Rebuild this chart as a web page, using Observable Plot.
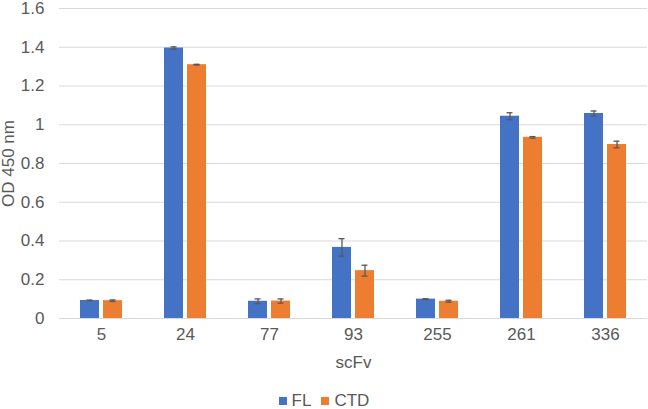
<!DOCTYPE html>
<html>
<head>
<meta charset="utf-8">
<script src="https://cdn.jsdelivr.net/npm/d3@7"></script>
<script src="https://cdn.jsdelivr.net/npm/@observablehq/plot@0.6"></script>
<style>
  body { margin: 0; background: #fff; font-family: "Liberation Sans", Arial, sans-serif; }
  #chart { width: 648px; }
  .legend { display: flex; justify-content: center; align-items: center; gap: 10px; height: 34px; padding-top: 17px; line-height: 17px; box-sizing: border-box; font-size: 17px; color: #595959; }
  .legend span.sw { display: inline-block; width: 8px; height: 8px; margin-right: 5px; }
  .legend .item { display: flex; align-items: center; }
</style>
</head>
<body>
<div id="chart"></div>
<script>
const categories = ["5", "24", "77", "93", "255", "261", "336"];
const series = ["FL", "CTD"];
const seriesColors = ["#4472C4", "#ED7D31"];
const flValues = [0.093, 1.396, 0.089, 0.367, 0.100, 1.044, 1.058];
const flErrors = [0.002, 0.006, 0.012, 0.045, 0.002, 0.018, 0.013];
const ctdValues = [0.092, 1.310, 0.090, 0.247, 0.089, 0.935, 0.898];
const ctdErrors = [0.004, 0.002, 0.011, 0.028, 0.005, 0.004, 0.017];
const yTicks = [0, 0.2, 0.4, 0.6, 0.8, 1, 1.2, 1.4, 1.6];

const rows = [];
categories.forEach((c, i) => {
  rows.push({cat: c, series: "FL", value: flValues[i], err: flErrors[i]});
  rows.push({cat: c, series: "CTD", value: ctdValues[i], err: ctdErrors[i]});
});

const textColor = "#595959";
const errColor = "#595959";

const chart = Plot.plot({
  width: 648,
  height: 375,
  marginLeft: 59,
  marginRight: 1,
  marginTop: 8,
  marginBottom: 57,
  style: { fontFamily: "Liberation Sans, Arial, sans-serif", fontSize: "17px", color: textColor, background: "#fff", overflow: "visible" },
  fx: { domain: categories, padding: 0, label: null },
  x: { domain: series, paddingInner: 0.1875, paddingOuter: 0.846, axis: null },
  y: { domain: [0, 1.6], label: null },
  color: { domain: series, range: seriesColors },
  marks: [
    Plot.gridY(yTicks, { stroke: "#D9D9D9", strokeOpacity: 1, strokeWidth: 1 }),
    Plot.axisY(yTicks, {
      tickSize: 0, tickPadding: 15, fontSize: 17, fill: textColor,
      tickFormat: d => String(+d.toFixed(1)),
      label: "OD 450 nm", labelAnchor: "center", labelOffset: 58, labelArrow: false
    }),
    Plot.axisFx({
      anchor: "bottom",
      tickSize: 0, tickPadding: 9, fontSize: 17, fill: textColor,
      label: "scFv", labelAnchor: "center", labelOffset: 49, labelArrow: false
    }),
    Plot.barY(rows, { fx: "cat", x: "series", y: "value", fill: "series" }),
    Plot.ruleX(rows, { fx: "cat", x: "series", y1: d => d.value - d.err, y2: d => d.value + d.err, stroke: errColor, strokeWidth: 1.3 }),
    Plot.tickY(rows, { fx: "cat", x: "series", y: d => d.value - d.err, stroke: errColor, strokeWidth: 1.3, insetLeft: 6.5, insetRight: 6.5 }),
    Plot.tickY(rows, { fx: "cat", x: "series", y: d => d.value + d.err, stroke: errColor, strokeWidth: 1.3, insetLeft: 6.5, insetRight: 6.5 })
  ]
});

const root = document.getElementById("chart");
root.appendChild(chart);

const legend = document.createElement("div");
legend.className = "legend";
series.forEach((s, i) => {
  const item = document.createElement("div");
  item.className = "item";
  const sw = document.createElement("span");
  sw.className = "sw";
  sw.style.background = seriesColors[i];
  item.appendChild(sw);
  item.appendChild(document.createTextNode(s));
  legend.appendChild(item);
});
root.appendChild(legend);
</script>
</body>
</html>
